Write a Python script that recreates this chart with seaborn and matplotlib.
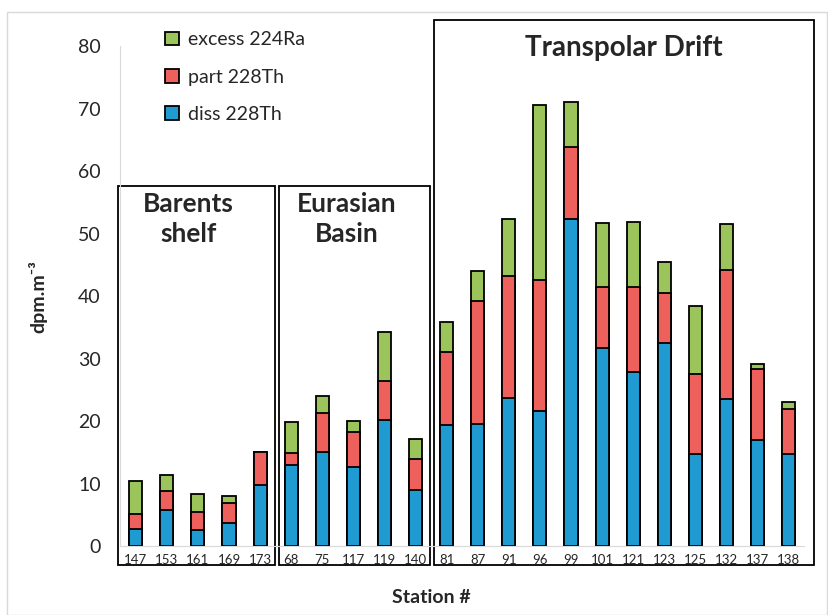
import matplotlib
matplotlib.use("Agg")
import matplotlib.pyplot as plt
import numpy as np
import pandas as pd
import seaborn as sns
from matplotlib.patches import Rectangle

# Station numbers (x axis, in plotted order)
stations = ["147", "153", "161", "169", "173",
            "68", "75", "117", "119", "140",
            "81", "87", "91", "96", "99", "101", "121", "123", "125", "132", "137", "138"]

# dpm.m-3 per component
diss_228th = [2.7, 5.8, 2.5, 3.7, 9.7,
              12.9, 15.0, 12.6, 20.1, 8.9,
              19.4, 19.5, 23.7, 21.6, 52.3, 31.7, 27.9, 32.5, 14.8, 23.6, 17.0, 14.8]
part_228th = [2.4, 3.0, 2.9, 3.2, 5.3,
              2.0, 6.3, 5.7, 6.3, 5.0,
              11.6, 19.7, 19.5, 20.9, 11.5, 9.7, 13.5, 8.0, 12.8, 20.6, 11.4, 7.1]
excess_224ra = [5.3, 2.6, 3.0, 1.1, 0.1,
                4.9, 2.7, 1.7, 7.8, 3.3,
                4.8, 4.8, 9.1, 28.0, 7.2, 10.3, 10.4, 5.0, 10.8, 7.4, 0.8, 1.2]

# regions: (label, first index, last index)
groups = [("Barents\nshelf", 0, 4), ("Eurasian\nBasin", 5, 9), ("Transpolar Drift", 10, 21)]

df = pd.DataFrame({"station": stations, "diss": diss_228th,
                   "part": part_228th, "excess": excess_224ra})
df["part_top"] = df["diss"] + df["part"]
df["total"] = df["part_top"] + df["excess"]

green = "#9BC45A"
red = "#EE605C"
blue = "#1F9BD2"

sns.set_style("white")
plt.rcParams["font.family"] = ["Lato", "DejaVu Sans"]

fig = plt.figure(figsize=(8.29, 6.15), dpi=100)
ax = fig.add_axes([0.145, 0.112, 0.825, 0.813])

# stacked bars drawn as overlapping cumulative heights
for col, c, lab in [("total", green, "excess 224Ra"),
                    ("part_top", red, "part 228Th"),
                    ("diss", blue, "diss 228Th")]:
    sns.barplot(data=df, x="station", y=col, order=stations, color=c,
                edgecolor="black", linewidth=1.3, width=0.42, ax=ax,
                label=lab, saturation=1)

ax.set_ylim(0, 80)
ax.set_xlim(-0.5, len(stations) - 0.5)
ax.set_yticks(np.arange(0, 81, 10))
ax.tick_params(axis="y", labelsize=14, length=0, pad=14)
ax.tick_params(axis="x", labelsize=9.5, length=0, pad=6)
ax.set_ylabel("dpm.m⁻³", fontsize=14, fontweight="bold", labelpad=22)
ax.set_xlabel("Station #", fontsize=14, fontweight="bold")
ax.xaxis.set_label_coords(0.455, -0.085)
for s in ["top", "right"]:
    ax.spines[s].set_visible(False)
ax.spines["left"].set_color("#d9d9d9")
ax.spines["bottom"].set_color("#d9d9d9")

# region boxes
tops = [57.6, 57.6, 84.2]
for k, ((name, i0, i1), top) in enumerate(zip(groups, tops)):
    x0 = i0 - 0.58 if k == 0 else i0 - 0.4
    x1 = i1 + 0.48 if i1 < len(stations) - 1 else i1 + 0.81
    ax.add_patch(Rectangle((x0, -3.0), x1 - x0, top + 3.0, fill=False,
                           edgecolor="black", linewidth=1.3, clip_on=False))
    if "\n" in name:
        ax.text((x0 + x1) / 2 - 0.25, top - 1.0, name, ha="center", va="top",
                fontsize=19, fontweight="bold", linespacing=1.3)
    else:
        ax.text((x0 + x1) / 2, 79.7, name, ha="center", va="center",
                fontsize=20, fontweight="bold")

handles, labels = ax.get_legend_handles_labels()
leg = ax.legend(handles, labels, loc="upper left", bbox_to_anchor=(0.04, 1.065),
                frameon=False, fontsize=14, handlelength=0.7, handleheight=0.7,
                labelspacing=1.05, handletextpad=0.5)

fig.patches.append(Rectangle((0.008, 0.0), 0.99, 0.98, transform=fig.transFigure,
                             fill=False, edgecolor="#d9d9d9", linewidth=1))

fig.savefig("out.png", dpi=100)
